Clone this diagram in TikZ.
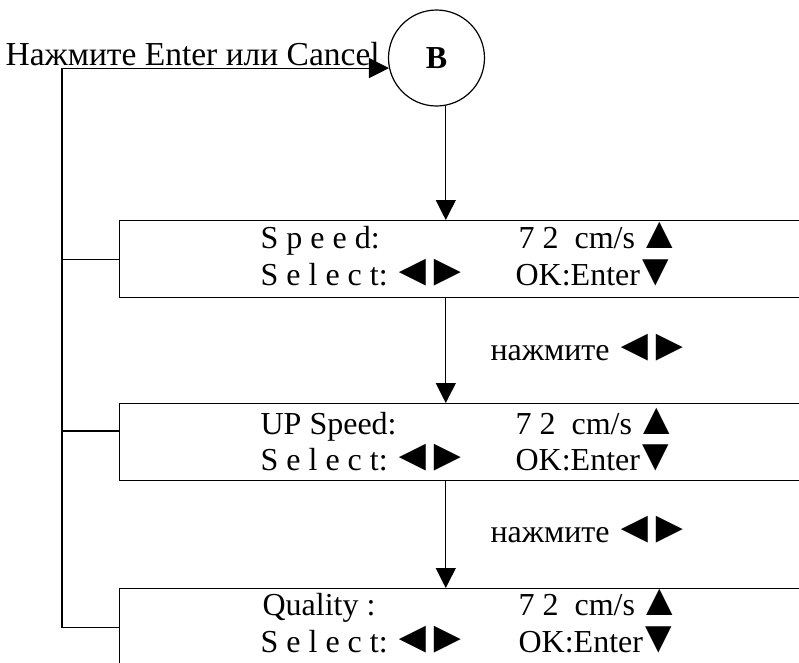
\documentclass[tikz,border=0pt]{standalone}
\usepackage{fontspec}
\setmainfont{Liberation Serif}
\usetikzlibrary{positioning,arrows.meta}
\newcommand{\keysym}[1]{\smash{\fontsize{45}{45}\selectfont #1}}
\newcommand{\keylr}{\keysym{◄}\kern-10pt\keysym{►}}
\newcommand{\keyup}{\kern2pt\keysym{▲}}
\newcommand{\keydown}{\kern-7pt\keysym{▼}}

\begin{document}
\begin{tikzpicture}[x=1pt, y=-1pt, line width=1.2pt,
    >={Triangle[length=20pt,width=20pt]},
    screen/.style={draw, rectangle, anchor=north west, inner sep=0pt,
      minimum width=720pt, minimum height=77pt},
    lcd/.style={anchor=base west, inner sep=0pt, font=\fontsize{32}{36}\selectfont},
    state/.style={draw, circle, inner sep=0pt, minimum size=96pt,
      font=\fontsize{32}{34}\selectfont\bfseries}]
  \useasboundingbox (0,0) rectangle (799,662);
  \clip (0,0) rectangle (799,662);

  % start state and return label
  \node[state] (B) at (436.5,58) {B};
  \node[lcd, font=\fontsize{33.5}{36}\selectfont] (back) at (5,65) {Нажмите Enter или Cancel};

  % three setup screens
  \node[screen] (s1) at (119,220) {};
  \node[screen] (s2) at (119,403) {};
  \node[screen] (s3) at (119,588) {};

  \node[lcd] (s1a) at (260,248) {S p e e d:};
  \node[lcd] (s1b) at (518,248) {7 2~ cm/s\keyup};
  \node[lcd] (s1c) at (260,285) {S e l e c t:\kern3pt\keylr};
  \node[lcd] (s1d) at (515,285) {OK:Enter\keydown};

  \node[lcd] (s2a) at (260,434) {UP Speed:};
  \node[lcd] (s2b) at (515,434) {7 2~ cm/s\keyup};
  \node[lcd] (s2c) at (260,470) {S e l e c t:\kern3pt\keylr};
  \node[lcd] (s2d) at (515,470) {OK:Enter\keydown};

  \node[lcd] (s3a) at (262,615) {Quality :};
  \node[lcd] (s3b) at (518,615) {7 2~ cm/s\keyup};
  \node[lcd] (s3c) at (260,652) {S e l e c t:\kern3pt\keylr};
  \node[lcd] (s3d) at (518,652) {OK:Enter\keydown};

  \node[lcd] (h1) at (490,360) {нажмите\kern3pt\keylr};
  \node[lcd] (h2) at (490,542) {нажмите\kern3pt\keylr};

  % flow down
  \draw[->] (B.-79) -- (B.-79 |- s1.north);
  \draw[->] (s1.south -| B.-79) -- (s2.north -| B.-79);
  \draw[->] (s2.south -| B.-79) -- (s3.north -| B.-79);

  % return line
  \coordinate (bus) at (62,0);
  \draw[->] (s3.west) -- (s3.west -| bus) |- (B.192);
  \draw (s1.west) -- (s1.west -| bus);
  \draw ([yshift=-28pt]s2.north west) -- ([yshift=-28pt]s2.north west -| bus);
\end{tikzpicture}
\end{document}
